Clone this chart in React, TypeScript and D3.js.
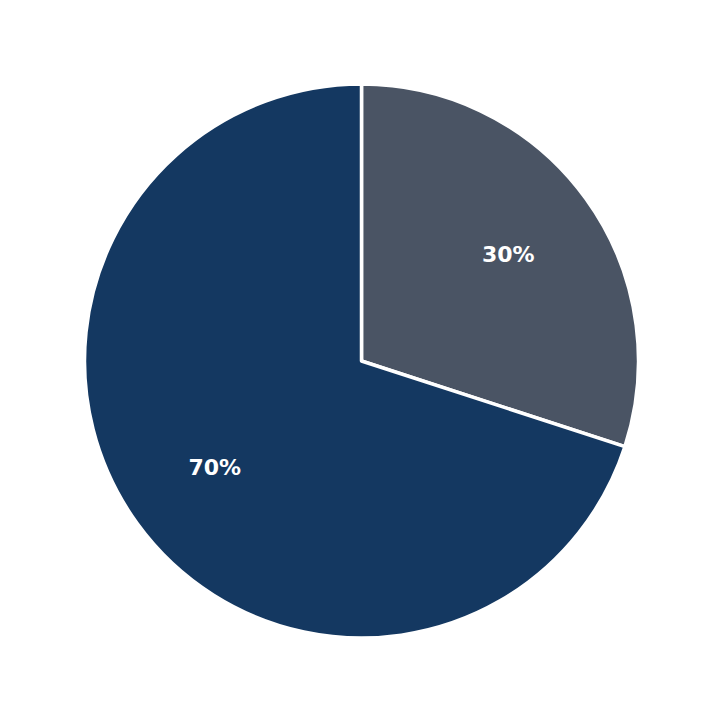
import React from 'react';
import * as d3 from 'd3';

const labels = ['Gray', 'Navy'];
const values = [30, 70];
const colors = ['#4a5464', '#143861'];

export default function App() {
    const width = 723;
    const height = 723;
    const cx = 361.5;
    const cy = 361;
    const radius = 277;

    const pie = d3.pie<number>().sort(null).startAngle(0).endAngle(2 * Math.PI);
    const arcs = pie(values);
    const arc = d3.arc<d3.PieArcDatum<number>>().innerRadius(0).outerRadius(radius);
    const labelArc = d3.arc<d3.PieArcDatum<number>>().innerRadius(radius * 0.655).outerRadius(radius * 0.655);
    const total = d3.sum(values);

    return (
        <svg width={width} height={height} style={{ position: 'absolute', left: 0, top: 0 }}>
            <rect width={width} height={height} fill="#fff" />
            <g transform={`translate(${cx}, ${cy})`}>
                {arcs.map((a, i) => (
                    <path key={labels[i]} d={arc(a) ?? ''} fill={colors[i]} stroke="#fff" strokeWidth={3.5} strokeLinejoin="round" />
                ))}
                {arcs.map((a, i) => {
                    const [x, y] = labelArc.centroid(a);
                    return (
                        <text key={labels[i] + '-l'} x={x} y={y} textAnchor="middle" dominantBaseline="central"
                            fill="#fff" fontFamily="DejaVu Sans" fontWeight="bold" fontSize={22}>
                            {`${Math.round((values[i] / total) * 100)}%`}
                        </text>
                    );
                })}
            </g>
        </svg>
    );
}
